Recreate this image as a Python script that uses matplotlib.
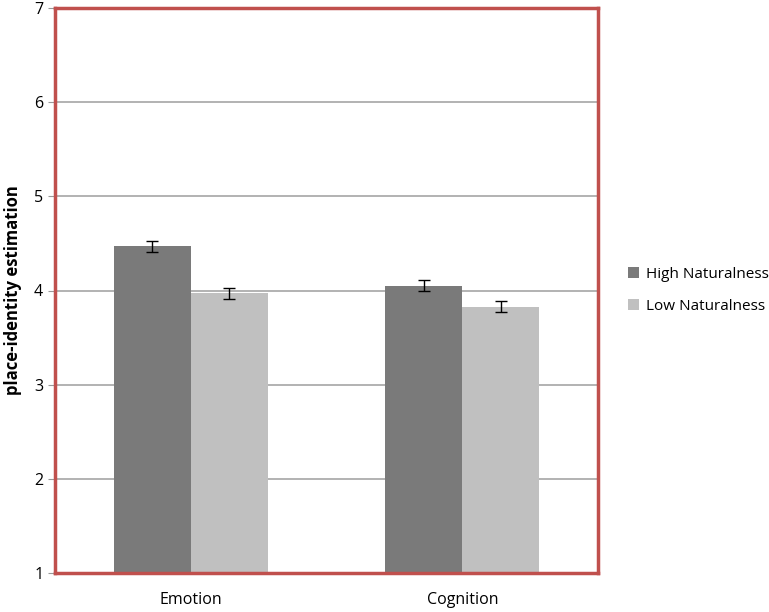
import numpy as np
import matplotlib.pyplot as plt

categories = ["Emotion", "Cognition"]
high_vals = [4.47, 4.05]
low_vals = [3.97, 3.83]
high_err = [0.06, 0.06]
low_err = [0.06, 0.06]
series_names = ["High Naturalness", "Low Naturalness"]

plt.rcParams['font.family'] = ['Open Sans', 'DejaVu Sans']

fig = plt.figure(figsize=(7.69, 6.12), dpi=100)
ax = fig.add_axes([55/769, 1-573/612, 543/769, 565/612])

x = np.arange(len(categories))
w = 0.284
ax.bar(x - w/2, np.array(high_vals) - 1, w, bottom=1, color='#7a7a7a',
       label=series_names[0], zorder=2)
ax.bar(x + w/2, np.array(low_vals) - 1, w, bottom=1, color='#c0c0c0',
       label=series_names[1], zorder=2)
ax.errorbar(x - w/2, high_vals, yerr=high_err, fmt='none', ecolor='black',
            elinewidth=1, capsize=4, capthick=1, zorder=3)
ax.errorbar(x + w/2, low_vals, yerr=low_err, fmt='none', ecolor='black',
            elinewidth=1, capsize=4, capthick=1, zorder=3)

ax.set_xlim(-0.5, 1.5)
ax.set_ylim(1, 7)
ax.set_yticks(range(1, 8))
ax.set_xticks(x)
ax.set_xticklabels(categories, fontsize=11.5)
ax.tick_params(axis='y', labelsize=11.5, length=5, color='#999999')
ax.tick_params(axis='x', length=0, pad=14)
ax.yaxis.grid(True, color='#a6a6a6', linewidth=1.2, zorder=0)
ax.set_axisbelow(True)
for s in ax.spines.values():
    s.set_color('#c0504d')
    s.set_linewidth(2.5)

ax.set_ylabel("place-identity estimation", fontsize=12, fontweight='bold')
ax.yaxis.set_label_coords(-33/543, 0.5)

ax.legend(loc='center left', bbox_to_anchor=(1.03, 0.5), frameon=False,
          fontsize=11, handlelength=0.7, handleheight=0.7, labelspacing=1.1,
          handletextpad=0.5)

plt.savefig("out.png", dpi=100, facecolor='w')
